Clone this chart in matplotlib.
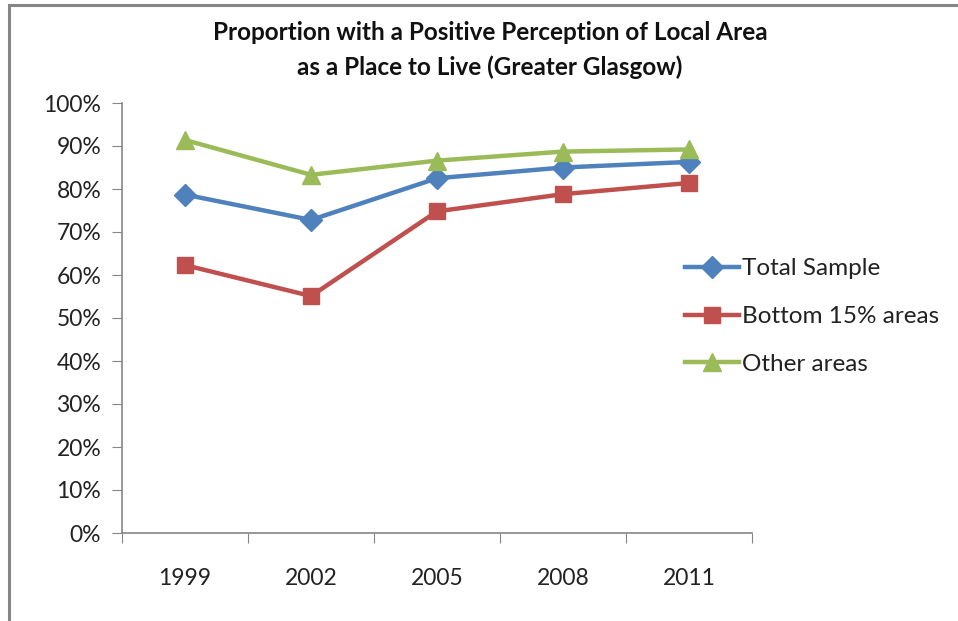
import matplotlib.pyplot as plt
from matplotlib.patches import Rectangle
from matplotlib.ticker import FixedLocator, PercentFormatter

years = ['1999', '2002', '2005', '2008', '2011']
total_sample = [78.7, 72.8, 82.5, 85.0, 86.3]
bottom_15 = [62.3, 55.1, 74.8, 78.8, 81.4]
other_areas = [91.4, 83.3, 86.6, 88.7, 89.2]

plt.rcParams['font.family'] = ['Lato', 'DejaVu Sans']

fig = plt.figure(figsize=(9.58, 6.21), dpi=100)
ax = fig.add_axes([122/958, 1-533/621, 630/958, 430/621])

x = range(len(years))
ax.plot(x, total_sample, color='#4F81BD', lw=3.2, marker='D', ms=11, label='Total Sample')
ax.plot(x, bottom_15, color='#C0504D', lw=3.2, marker='s', ms=12, label='Bottom 15% areas')
ax.plot(x, other_areas, color='#9BBB59', lw=3.2, marker='^', ms=13, label='Other areas')

ax.set_xlim(-0.5, len(years)-0.5)
ax.set_ylim(0, 100)
ax.set_yticks(range(0, 101, 10))
ax.yaxis.set_major_formatter(PercentFormatter(decimals=0))

# category ticks sit between the years, labels centred under each year
ax.set_xticks([i + 0.5 for i in range(-1, len(years))])
ax.set_xticklabels([])
ax.xaxis.set_minor_locator(FixedLocator(list(x)))
ax.set_xticklabels(years, minor=True)
ax.tick_params(axis='x', which='minor', length=0, pad=25, labelsize=16.5, colors='#222222')
ax.tick_params(axis='x', which='major', length=7, color='#868686')
ax.tick_params(axis='y', length=7, color='#868686', labelsize=16.5, labelcolor='#222222', pad=8)

for s in ['top', 'right']:
    ax.spines[s].set_visible(False)
for s in ['left', 'bottom']:
    ax.spines[s].set_color('#868686')
    ax.spines[s].set_linewidth(1.2)

ax.legend(loc='center left', bbox_to_anchor=(0.705, 0.49), bbox_transform=fig.transFigure,
          frameon=False, fontsize=17.5, handlelength=2.2, handletextpad=0.15,
          labelspacing=1.1, labelcolor='#222222', borderaxespad=0)

fig.text(490/958, 1-33/621, 'Proportion with a Positive Perception of Local Area',
         ha='center', va='center', fontsize=17.5, fontweight='bold', color='#111111')
fig.text(490/958, 1-67/621, 'as a Place to Live (Greater Glasgow)',
         ha='center', va='center', fontsize=17.5, fontweight='bold', color='#111111')

# outer chart frame
fig.patches.append(Rectangle((8.5/958, -0.1), 1.0, 1.1 - 5/621, transform=fig.transFigure,
                             fill=False, edgecolor='#868686', linewidth=2.2))

fig.savefig('out.png', dpi=100)
